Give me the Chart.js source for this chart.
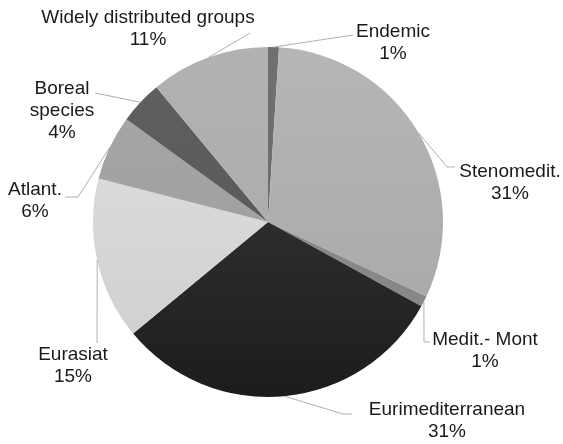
<!DOCTYPE html>
<html>
<head>
<meta charset="utf-8">
<script src="https://cdn.jsdelivr.net/npm/chart.js@4/dist/chart.umd.min.js"></script>
<style>
  html, body { margin: 0; padding: 0; background: #ffffff; }
  #wrap { width: 563px; height: 444px; }
</style>
</head>
<body>
<div id="wrap"><canvas id="chorology" width="563" height="444"></canvas></div>
<script>
// chorological groups, share of the flora (%)
const groups = [
    ["Endemic"],
    ["Stenomedit."],
    ["Medit.- Mont"],
    ["Eurimediterranean"],
    ["Eurasiat"],
    ["Atlant."],
    ["Boreal", "species"],
    ["Widely distributed groups"]
];
const shares = [1, 31, 1, 31, 15, 6, 4, 11];

// top / bottom shade of each slice
const shadeTop = ["#707070", "#b6b6b6", "#8e8e8e", "#3e3e3e", "#e2e2e2", "#a8a8a8", "#606060", "#b2b2b2"];
const shadeBottom = ["#666666", "#a6a6a6", "#858585", "#1c1c1c", "#cdcdcd", "#9a9a9a", "#555555", "#a8a8a8"];

// where each label block sits (centre of first line) and the leader path to it
const labelSpots = [
    { x: 393, y: 32, path: [[353, 35]] },
    { x: 510, y: 172, path: [[447, 167], [455, 167]] },
    { x: 485, y: 340, path: [[424, 342], [430, 342]] },
    { x: 447, y: 410, path: [[343, 414], [352, 414]] },
    { x: 73, y: 355, path: [[97, 343]] },
    { x: 35, y: 190, path: [[78, 197], [65, 197]] },
    { x: 62, y: 89, path: [[95, 93]] },
    { x: 148, y: 18, path: [[250, 33]] }
];

const calloutPlugin = {
    id: "callouts",
    afterDatasetsDraw(chart) {
        const ctx = chart.ctx;
        const meta = chart.getDatasetMeta(0);
        const total = shares.reduce((a, b) => a + b, 0);
        ctx.save();
        meta.data.forEach((arc, i) => {
            const p = arc.getProps(["x", "y", "startAngle", "endAngle", "outerRadius"], true);
            const mid = (p.startAngle + p.endAngle) / 2;
            const spot = labelSpots[i];

            // leader line from the rim of the slice
            ctx.strokeStyle = "#a9b0ba";
            ctx.lineWidth = 1;
            ctx.beginPath();
            ctx.moveTo(p.x + Math.cos(mid) * p.outerRadius, p.y + Math.sin(mid) * p.outerRadius);
            spot.path.forEach((pt) => ctx.lineTo(pt[0], pt[1]));
            ctx.stroke();

            const lines = groups[i].concat([Math.round(shares[i] / total * 100) + "%"]);
            ctx.fillStyle = "#1a1a1a";
            ctx.font = "19px 'Liberation Sans', Arial, sans-serif";
            ctx.textAlign = "center";
            ctx.textBaseline = "middle";
            lines.forEach((txt, k) => ctx.fillText(txt, spot.x, spot.y + k * 22));
        });
        ctx.restore();
    }
};

const ctx = document.getElementById("chorology").getContext("2d");
new Chart(ctx, {
    type: "pie",
    data: {
        labels: groups.map((g) => g.join(" ")),
        datasets: [{
            data: shares,
            borderWidth: 0,
            backgroundColor: function (c) {
                const area = c.chart.chartArea;
                if (!area) return shadeTop[c.dataIndex];
                const g = c.chart.ctx.createLinearGradient(0, area.top, 0, area.bottom);
                g.addColorStop(0, shadeTop[c.dataIndex]);
                g.addColorStop(1, shadeBottom[c.dataIndex]);
                return g;
            }
        }]
    },
    options: {
        responsive: false,
        animation: false,
        layout: {
            padding: { left: 93, right: 120, top: 47, bottom: 47 }
        },
        plugins: {
            legend: { display: false },
            tooltip: { enabled: false }
        }
    },
    plugins: [calloutPlugin]
});
</script>
</body>
</html>
